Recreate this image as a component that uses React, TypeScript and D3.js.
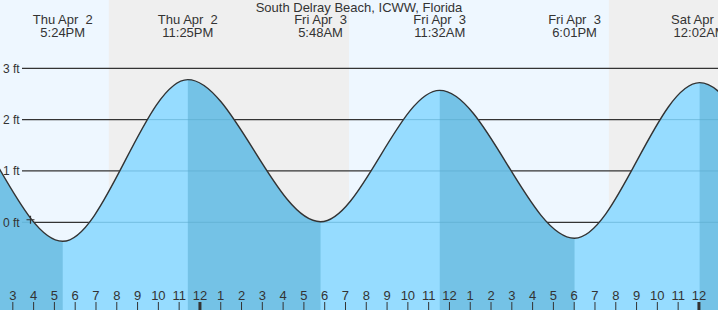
import React, { useEffect, useRef } from 'react';
import * as d3 from 'd3';

// tide predictions (high / low), heights in ft
const tideTimes = [
    '2026-04-02T04:55', // off-screen
    '2026-04-02T11:10', // off-screen
    '2026-04-02T17:24',
    '2026-04-02T23:25',
    '2026-04-03T05:48',
    '2026-04-03T11:32',
    '2026-04-03T18:01',
    '2026-04-04T00:02',
    '2026-04-04T06:15', // off-screen
    '2026-04-04T12:30', // off-screen
];
const tideHeights = [0.0, 2.55, -0.37, 2.78, 0.01, 2.57, -0.31, 2.72, -0.2, 2.6];
const tideTypes = ['L', 'H', 'L', 'H', 'L', 'H', 'L', 'H', 'L', 'H'];
const labelTop = ['Thu Apr  2', 'Thu Apr  2', 'Fri Apr  3', 'Fri Apr  3', 'Fri Apr  3', 'Sat Apr  4'];
const labelBottom = ['5:24PM', '11:25PM', '5:48AM', '11:32AM', '6:01PM', '12:02AM'];

// night periods (sunset -> sunrise)
const nightStart = ['2026-04-02T19:37', '2026-04-03T19:40'];
const nightEnd = ['2026-04-03T07:10', '2026-04-04T07:10'];

const yTicks = [0, 1, 2, 3];
const nowTime = '2026-04-02T15:51';
const nowHeight = 0.05;

const title = 'South Delray Beach, ICWW, Florida';

const parse = (s: string) => new Date(s + ':00Z');

const App: React.FC = () => {
    const svgRef = useRef<SVGSVGElement | null>(null);

    useEffect(() => {
        if (!svgRef.current) return;
        const svg = d3.select(svgRef.current);
        svg.selectAll('*').remove();

        const width = 718;
        const height = 310;
        const font = '"Liberation Sans", Arial, sans-serif';
        const textColor = '#333';

        const x = d3.scaleUtc()
            .domain([parse('2026-04-02T14:23'), parse('2026-04-04T00:55')])
            .range([0, width]);
        const y = d3.scaleLinear().domain([0, 3]).range([222.3, 68.3]);

        const points = tideTimes.map((t, i) => ({ t: parse(t), v: tideHeights[i], type: tideTypes[i] }));

        // background: day / night
        svg.append('rect')
            .attr('x', 0).attr('y', 0)
            .attr('width', width).attr('height', height)
            .style('fill', '#eef7ff');

        svg.selectAll('rect.night')
            .data(nightStart)
            .enter()
            .append('rect')
            .attr('class', 'night')
            .attr('x', (d) => x(parse(d)))
            .attr('y', 0)
            .attr('width', (d, i) => Math.min(width, x(parse(nightEnd[i]))) - x(parse(d)))
            .attr('height', height)
            .style('fill', '#efefef');

        // grid lines behind water
        svg.selectAll('line.grid')
            .data(yTicks)
            .enter()
            .append('line')
            .attr('class', 'grid')
            .attr('x1', 22).attr('x2', width)
            .attr('y1', (d) => y(d)).attr('y2', (d) => y(d))
            .style('stroke', '#333')
            .style('stroke-width', '1.3px');

        const area = d3.area<any>()
            .x((d) => x(d.t))
            .y0(height)
            .y1((d) => y(d.v))
            .curve(d3.curveMonotoneX);

        const line = d3.line<any>()
            .x((d) => x(d.t))
            .y((d) => y(d.v))
            .curve(d3.curveMonotoneX);

        svg.append('clipPath')
            .attr('id', 'water')
            .append('path')
            .attr('d', area(points));

        const water = svg.append('g').attr('clip-path', 'url(#water)');

        // flood (rising) light, ebb (falling) dark
        water.append('rect')
            .attr('x', 0).attr('y', 0)
            .attr('width', width).attr('height', height)
            .style('fill', '#96dcff');

        const falling = points.slice(0, -1)
            .map((p, i) => ({ from: p, to: points[i + 1] }))
            .filter((d) => d.from.type === 'H');

        water.selectAll('rect.ebb')
            .data(falling)
            .enter()
            .append('rect')
            .attr('class', 'ebb')
            .attr('x', (d) => x(d.from.t))
            .attr('y', 0)
            .attr('width', (d) => x(d.to.t) - x(d.from.t))
            .attr('height', height)
            .style('fill', '#74c2e6');

        // faint grid inside the water
        water.selectAll('line.gridFaint')
            .data(yTicks)
            .enter()
            .append('line')
            .attr('class', 'gridFaint')
            .attr('x1', 22).attr('x2', width)
            .attr('y1', (d) => y(d)).attr('y2', (d) => y(d))
            .style('stroke', '#5aa8cc')
            .style('stroke-width', '1px')
            .style('opacity', 0.6);

        svg.append('path')
            .attr('d', line(points))
            .style('fill', 'none')
            .style('stroke', '#333')
            .style('stroke-width', '1.4px');

        // current time marker
        const nx = x(parse(nowTime));
        const ny = y(nowHeight);
        svg.append('path')
            .attr('d', `M${nx - 4},${ny}H${nx + 4}M${nx},${ny - 4}V${ny + 4}`)
            .style('stroke', '#333')
            .style('stroke-width', '1.2px');

        // y labels
        svg.selectAll('text.yLabel')
            .data(yTicks)
            .enter()
            .append('text')
            .attr('class', 'yLabel')
            .attr('x', 3)
            .attr('y', (d) => y(d) + 4.5)
            .style('font-family', font)
            .style('font-size', '12px')
            .style('fill', textColor)
            .text((d) => `${d} ft`);

        // hour ticks
        const hours = d3.utcHour.range(x.domain()[0], x.domain()[1]);
        svg.selectAll('line.hourTick')
            .data(hours)
            .enter()
            .append('line')
            .attr('class', 'hourTick')
            .attr('x1', (d) => x(d)).attr('x2', (d) => x(d))
            .attr('y1', 302).attr('y2', height)
            .style('stroke', '#333')
            .style('stroke-width', (d) => (d.getUTCHours() === 0 ? '3px' : '1px'));

        svg.selectAll('text.hourLabel')
            .data(hours)
            .enter()
            .append('text')
            .attr('class', 'hourLabel')
            .attr('x', (d) => x(d))
            .attr('y', 300)
            .attr('text-anchor', 'middle')
            .style('font-family', font)
            .style('font-size', '13px')
            .style('fill', textColor)
            .text((d) => `${d.getUTCHours() % 12 || 12}`);

        // title
        svg.append('text')
            .attr('x', width / 2)
            .attr('y', 12)
            .attr('text-anchor', 'middle')
            .style('font-family', font)
            .style('font-size', '13px')
            .style('fill', textColor)
            .text(title);

        // event labels
        const visible = points.slice(2, 8);
        const labels = svg.selectAll('g.eventLabel')
            .data(visible)
            .enter()
            .append('g')
            .attr('class', 'eventLabel')
            .attr('transform', (d) => `translate(${x(d.t)},0)`);

        labels.append('text')
            .attr('y', 24)
            .attr('text-anchor', 'middle')
            .style('font-family', font)
            .style('font-size', '13px')
            .style('fill', textColor)
            .style('white-space', 'pre')
            .text((d, i) => labelTop[i]);

        labels.append('text')
            .attr('y', 37)
            .attr('text-anchor', 'middle')
            .style('font-family', font)
            .style('font-size', '13px')
            .style('fill', textColor)
            .text((d, i) => labelBottom[i]);
    }, []);

    return (
        <svg
            ref={svgRef}
            width={718}
            height={310}
            style={{ position: 'absolute', left: 0, top: 0, display: 'block' }}
        />
    );
};

export default App;
